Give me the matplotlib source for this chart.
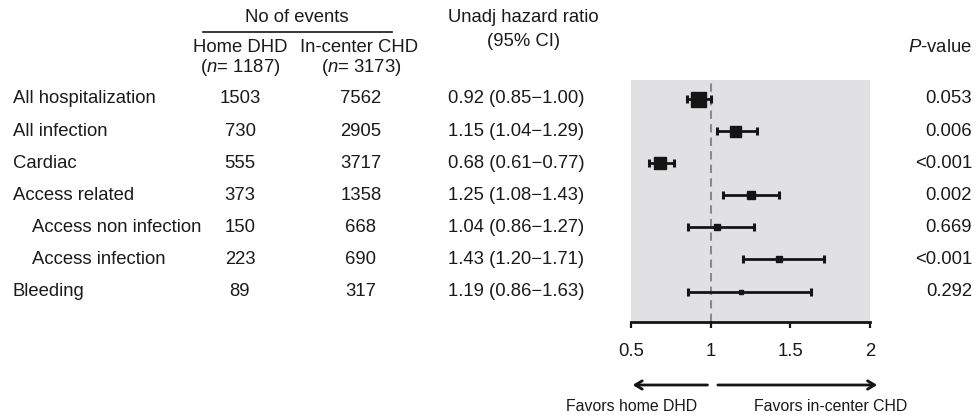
import matplotlib
matplotlib.use("Agg")
import matplotlib.pyplot as plt
from matplotlib import transforms
import numpy as np

plt.rcParams['font.family'] = 'Liberation Sans'
plt.rcParams['mathtext.fontset'] = 'custom'
plt.rcParams['mathtext.rm'] = 'Liberation Sans'
plt.rcParams['mathtext.it'] = 'Liberation Sans:italic'

# data
outcomes = ['All hospitalization', 'All infection', 'Cardiac', 'Access related',
            'Access non infection', 'Access infection', 'Bleeding']
indented = [False, False, False, False, True, True, False]
home_events = ['1503', '730', '555', '373', '150', '223', '89']
center_events = ['7562', '2905', '3717', '1358', '668', '690', '317']
hr = [0.92, 1.15, 0.68, 1.25, 1.04, 1.43, 1.19]
ci_low = [0.85, 1.04, 0.61, 1.08, 0.86, 1.20, 0.86]
ci_high = [1.00, 1.29, 0.77, 1.43, 1.27, 1.71, 1.63]
p_values = ['0.053', '0.006', '<0.001', '0.002', '0.669', '<0.001', '0.292']
tick_vals = [0.5, 1, 1.5, 2]
tick_labels = ['0.5', '1', '1.5', '2']

# box size per row (px), style only
box_px = [15, 11, 12, 8, 6, 6, 5]

W, H = 976, 415
TXT = '#1a1a1a'
FS = 13.3

fig = plt.figure(figsize=(W / 100, H / 100), dpi=100)
fig.patch.set_facecolor('white')


def fx(px):
    return px / W


def fy(py):
    return 1 - py / H


# forest panel: x 631..870, y 80..322 px
ax = fig.add_axes([fx(631), fy(322), fx(870) - fx(631), (322 - 80) / H])
ax.set_facecolor('#e1e1e3')
ax.set_xlim(0.5, 2.0)
ax.set_ylim(6.95, -0.59)

rows = np.arange(len(outcomes))
hr_a = np.array(hr)
ax.axvline(1, color='#8a8a8a', lw=1.5, linestyle=(0, (4, 2.5)), zorder=1)
ax.errorbar(hr_a, rows, xerr=[hr_a - np.array(ci_low), np.array(ci_high) - hr_a],
            fmt='none', ecolor='#151515', elinewidth=2, capsize=3, capthick=2.2, zorder=2)
for i in rows:
    ax.plot(hr[i], i, marker='s', color='#151515', markersize=box_px[i] * 0.72,
            linestyle='none', zorder=3)

for s in ['top', 'left', 'right']:
    ax.spines[s].set_visible(False)
ax.spines['bottom'].set_linewidth(2)
ax.spines['bottom'].set_color('#151515')
ax.set_yticks([])
ax.set_xticks(tick_vals)
ax.set_xticklabels(tick_labels)
ax.tick_params(axis='x', direction='out', length=4, width=1.6, pad=11,
               labelsize=FS, colors='#151515', labelcolor=TXT)
ax.set_xlim(0.5, 2.0)

# table text aligned with rows
tr = transforms.blended_transform_factory(fig.transFigure, ax.transData)
for i in rows:
    ax.text(fx(32 if indented[i] else 13), i, outcomes[i], transform=tr,
            ha='left', va='center', fontsize=FS, color=TXT)
    ax.text(fx(240), i, home_events[i], transform=tr,
            ha='center', va='center', fontsize=FS, color=TXT)
    ax.text(fx(361), i, center_events[i], transform=tr,
            ha='center', va='center', fontsize=FS, color=TXT)
    ax.text(fx(448), i, f'{hr[i]:.2f} ({ci_low[i]:.2f}\u2212{ci_high[i]:.2f})',
            transform=tr, ha='left', va='center', fontsize=FS, color=TXT)
    ax.text(fx(972), i, p_values[i], transform=tr,
            ha='right', va='center', fontsize=FS, color=TXT)

# headers
fig.text(fx(297), fy(17), 'No of events', ha='center', va='center', fontsize=FS, color=TXT)
fig.add_artist(plt.Line2D([fx(203), fx(392)], [fy(32), fy(32)], color='#151515', lw=1.2))
fig.text(fx(240), fy(47), 'Home DHD', ha='center', va='center', fontsize=FS, color=TXT)
fig.text(fx(240), fy(67), r'($\it{n}$= 1187)', ha='center', va='center', fontsize=FS, color=TXT)
fig.text(fx(359), fy(47), 'In-center CHD', ha='center', va='center', fontsize=FS, color=TXT)
fig.text(fx(361), fy(67), r'($\it{n}$= 3173)', ha='center', va='center', fontsize=FS, color=TXT)
fig.text(fx(448), fy(18), 'Unadj hazard ratio', ha='left', va='center', fontsize=FS, color=TXT)
fig.text(fx(524), fy(42), '(95% CI)', ha='center', va='center', fontsize=FS, color=TXT)
fig.text(fx(972), fy(48), r'$\it{P}$-value', ha='right', va='center', fontsize=FS, color=TXT)

# favour arrows
arrow = dict(arrowstyle='->,head_length=0.5,head_width=0.3', lw=2, color='#151515',
             shrinkA=0, shrinkB=0)
ax.annotate('', xy=(0.51, fy(385)), xytext=(0.98, fy(385)),
            xycoords=('data', 'figure fraction'), textcoords=('data', 'figure fraction'),
            arrowprops=arrow, annotation_clip=False)
ax.annotate('', xy=(2.045, fy(385)), xytext=(1.045, fy(385)),
            xycoords=('data', 'figure fraction'), textcoords=('data', 'figure fraction'),
            arrowprops=arrow, annotation_clip=False)
fig.text(fx(632), fy(406), 'Favors home DHD', ha='center', va='center', fontsize=11.4, color=TXT)
fig.text(fx(831), fy(406), 'Favors in-center CHD', ha='center', va='center', fontsize=11.4, color=TXT)

fig.savefig('out.png', dpi=100)
